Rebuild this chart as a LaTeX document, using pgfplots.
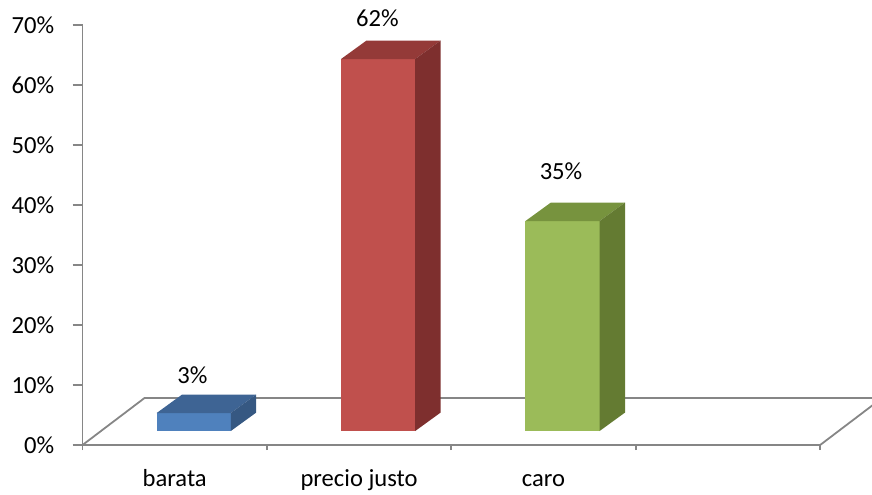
\documentclass[border=0pt]{standalone}
\usepackage{pgfplots}
\pgfplotsset{compat=1.18}
\usepackage{fontspec}
\setmainfont{Carlito}
\definecolor{axgray}{RGB}{134,134,134}
\definecolor{bfront}{RGB}{79,129,189}
\definecolor{btop}{RGB}{62,100,148}
\definecolor{bside}{RGB}{54,88,130}
\definecolor{rfront}{RGB}{192,80,77}
\definecolor{rtop}{RGB}{148,58,56}
\definecolor{rside}{RGB}{126,47,46}
\definecolor{gfront}{RGB}{155,187,89}
\definecolor{gtop}{RGB}{119,147,62}
\definecolor{gside}{RGB}{100,123,50}
\begin{document}
\fontsize{12.3}{14.7}\selectfont
\begin{tikzpicture}
\begin{axis}[
  x=92.2pt, y=3pt,
  xmin=-0.5, xmax=3.5, ymin=0, ymax=70,
  clip=false,
  axis lines=left,
  axis line style={-, draw=axgray, line width=0.9pt},
  tick style={draw=axgray, line width=0.9pt},
  tick align=outside,
  ytick={0,10,20,30,40,50,60,70},
  yticklabels={0\%,10\%,20\%,30\%,40\%,50\%,60\%,70\%},
  y tick label style={anchor=east, inner sep=0pt, xshift=-9pt},
  ymajorticks=true,
  xtick={0,1,2,3},
  xticklabels={barata,precio justo,caro,{}},
  x tick label style={anchor=base, inner sep=0pt, yshift=-15.6pt},
  minor xtick={-0.5,0.5,1.5,2.5,3.5},
  xtick style={draw=none},
  minor x tick style={draw=axgray, line width=0.9pt},
  minor tick length=2.5pt,
  major tick length=5pt,
  /pgf/number format/assume math mode=true,
]
% floor
\addplot[draw=axgray, line width=0.9pt] coordinates {(-0.5,0) (-0.1638,7.83) (3.836,7.83) (3.5,0)};
% barata (3)
\addplot[fill=bfront, draw=none] coordinates {(-0.098,2.33) (0.304,2.33) (0.304,5.33) (-0.098,5.33)} --cycle;
\addplot[fill=btop, draw=none] coordinates {(-0.098,5.33) (0.304,5.33) (0.442,8.41) (0.040,8.41)} --cycle;
\addplot[fill=bside, draw=none] coordinates {(0.304,2.33) (0.442,5.41) (0.442,8.41) (0.304,5.33)} --cycle;
% precio justo (62)
\addplot[fill=rfront, draw=none] coordinates {(0.902,2.33) (1.304,2.33) (1.304,64.33) (0.902,64.33)} --cycle;
\addplot[fill=rtop, draw=none] coordinates {(0.902,64.33) (1.304,64.33) (1.442,67.41) (1.040,67.41)} --cycle;
\addplot[fill=rside, draw=none] coordinates {(1.304,2.33) (1.442,5.41) (1.442,67.41) (1.304,64.33)} --cycle;
% caro (35)
\addplot[fill=gfront, draw=none] coordinates {(1.902,2.33) (2.304,2.33) (2.304,37.33) (1.902,37.33)} --cycle;
\addplot[fill=gtop, draw=none] coordinates {(1.902,37.33) (2.304,37.33) (2.442,40.41) (2.040,40.41)} --cycle;
\addplot[fill=gside, draw=none] coordinates {(2.304,2.33) (2.442,5.41) (2.442,40.41) (2.304,37.33)} --cycle;
% labels
\addplot[only marks, mark=none, point meta=explicit symbolic, nodes near coords,
  nodes near coords align={anchor=base},
  every node near coord/.append style={inner sep=0pt, text=black}]
  coordinates {(0.0965,10.28) [3\%] (1.0998,69.7) [62\%] (2.095,44.17) [35\%]};
\coordinate (bbBL) at (axis cs:-0.9474,-8.167);
\coordinate (bbTR) at (axis cs:3.7815,74.17);
\end{axis}
\pgfresetboundingbox
\path[use as bounding box] (bbBL) rectangle (bbTR);
\end{tikzpicture}
\end{document}
